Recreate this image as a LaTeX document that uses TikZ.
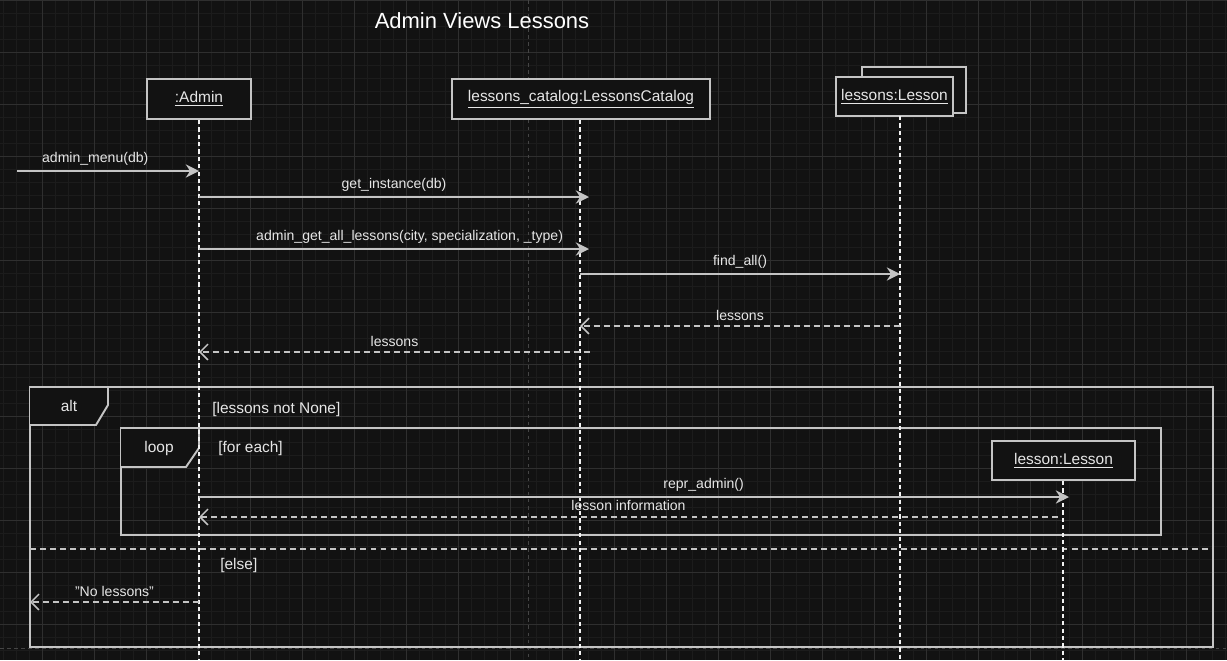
\documentclass[tikz,border=0pt]{standalone}
\usepackage{fontspec}
\setmainfont{Liberation Sans}
\usetikzlibrary{arrows.meta,positioning,calc}
\definecolor{bgdark}{HTML}{121212}
\definecolor{gridminor}{HTML}{1C1C1C}
\definecolor{gridmajor}{HTML}{2F2F2F}
\definecolor{pagebreak}{HTML}{454545}
\definecolor{lncol}{HTML}{C4C4C4}
\definecolor{txcol}{HTML}{E6E6E6}
\tikzset{
  head/.style={draw=lncol, line width=1.1pt, fill=bgdark, text=txcol, font=\fontsize{8.8}{10}\selectfont, inner sep=0pt},
  lifeline/.style={draw=white!90!gray, line width=0.8pt, dash pattern=on 2.4pt off 1.8pt},
  callmsg/.style={draw=lncol, line width=1pt, -{Stealth[length=7.5pt,width=7.5pt,inset=2.4pt]}},
  retmsg/.style={draw=lncol, line width=0.9pt, dash pattern=on 3.4pt off 2.3pt, -{Straight Barb[length=4.5pt,width=9pt]}},
  msglabel/.style={text=txcol, font=\fontsize{8}{9}\selectfont, inner sep=2.5pt},
  frame/.style={draw=lncol, line width=1.1pt},
  fragtext/.style={text=txcol, font=\fontsize{8.8}{10}\selectfont, inner sep=0pt}
}
\begin{document}
\begin{tikzpicture}[x=0.02cm, y=-0.02cm]
% ==========================================
\fill[bgdark] (0,0) rectangle (1227,660);
\useasboundingbox (0,0) rectangle (1227,660);
% grid
\foreach \i in {0,...,94} \draw[gridminor, line width=0.4pt] ({3.3+13*\i},0) -- ++(0,660);
\foreach \i in {0,...,50} \draw[gridminor, line width=0.4pt] (0,{0.3+13*\i}) -- ++(1227,0);
\foreach \i in {0,...,22} \draw[gridmajor, line width=0.5pt] ({42.3+52*\i},0) -- ++(0,660);
\foreach \i in {0,...,12} \draw[gridmajor, line width=0.5pt] (0,{0.3+52*\i}) -- ++(1227,0);
\draw[pagebreak, line width=0.5pt, dash pattern=on 2pt off 2pt] (528,0) -- (528,660);
\draw[pagebreak, line width=0.5pt, dash pattern=on 2pt off 2pt] (0,648) -- (1227,648);
%
\node[text=white, font=\fontsize{12.5}{14}\selectfont] (title) at (482,21) {Admin Views Lessons};
% =============================================
% fragments
\draw[frame] (30,387) rectangle (1213,647);
\draw[frame, fill=bgdark] (30,387) -- (108,387) -- (108,405) -- (96,425) -- (30,425);
\node[fragtext] (alt) at (69,406) {alt};
\node[fragtext, anchor=west] (guard1) at (212,409) {[lessons not None]};
\draw[frame] (121,428) rectangle (1161,535);
\draw[frame, fill=bgdark] (121,428) -- (199,428) -- (199,448) -- (186,467) -- (121,467);
\node[fragtext] (loop) at (159,448) {loop};
\node[fragtext, anchor=west] (guard2) at (218,448) {[for each]};
\draw[lncol, line width=0.9pt, dash pattern=on 3.4pt off 2.3pt] (30,549) -- (1213,549);
\node[fragtext, anchor=west] (guard3) at (220,565) {[else]};
% =============================================
% lifelines
\node[head, minimum width=2.08cm, minimum height=0.8cm] (admin) at (199,99) {\underline{:Admin}};
\node[head, minimum width=5.16cm, minimum height=0.8cm] (catalog) at (581,99) {\underline{lessons\_catalog:LessonsCatalog}};
\node[head, minimum width=2.08cm, minimum height=0.92cm] (lessonsback) at (914,90) {};
\node[head, minimum width=2.34cm, minimum height=0.78cm] (lessons) at (894.5,96.5) {\underline{lessons:Lesson}};
\node[head, minimum width=2.86cm, minimum height=0.78cm] (lesson) at (1063.5,460.5) {\underline{lesson:Lesson}};
%
\coordinate (adminend) at (199,660);
\coordinate (catalogend) at (580,660);
\coordinate (lessonstop) at (900,116);
\coordinate (lessonsend) at (900,660);
\coordinate (lessonend) at (1063,660);
\draw[lifeline] (admin.south) -- (adminend);
\draw[lifeline] (catalogend |- catalog.south) -- (catalogend);
\draw[lifeline] (lessonstop) -- (lessonsend);
\draw[lifeline] (lesson.south -| lessonend) -- (lessonend);
% =============================================
% messages
\coordinate (entry) at (17,171);
\coordinate (noneout) at (30,602);
\draw[callmsg] (entry) -- (admin |- entry) node[msglabel, pos=0.43, above] {admin\_menu(db)};
\draw[callmsg] (admin |- 0,197) -- ($(catalogend |- 0,197)+(9,0)$) node[msglabel, midway, above] {get\_instance(db)};
\draw[callmsg] (admin |- 0,249) -- ($(catalogend |- 0,249)+(9,0)$) node[msglabel, pos=0.54, above] {admin\_get\_all\_lessons(city, specialization, \_type)};
\draw[callmsg] (catalogend |- 0,274) -- (lessonsend |- 0,274) node[msglabel, midway, above] {find\_all()};
\draw[retmsg] (lessonsend |- 0,326) -- (catalogend |- 0,326) node[msglabel, midway, above] {lessons};
\draw[retmsg] ($(catalogend |- 0,352)+(10,0)$) -- (admin |- 0,352) node[msglabel, midway, above] {lessons};
\draw[callmsg] (admin |- 0,497) -- ($(lessonend |- 0,497)+(6,0)$) node[msglabel, pos=0.58, above] {repr\_admin()};
\draw[retmsg] ($(lessonend |- 0,517)+(-5,0)$) -- (admin |- 0,517) node[msglabel, midway, above, inner sep=2.9pt] {lesson information};
\draw[retmsg] (admin |- noneout) -- (noneout) node[msglabel, midway, above] {"No lessons"};
% =============================================
\end{tikzpicture}
\end{document}
